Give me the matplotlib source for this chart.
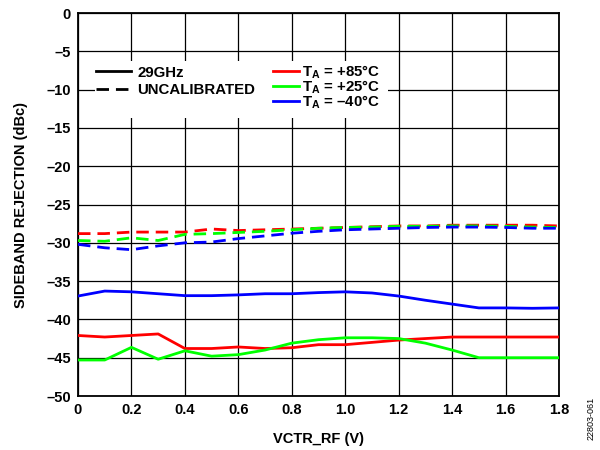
import matplotlib
matplotlib.use("Agg")
import matplotlib.pyplot as plt
from matplotlib.lines import Line2D
from matplotlib.patches import Rectangle

plt.rcParams['font.family'] = ['Liberation Sans', 'DejaVu Sans']
plt.rcParams['font.weight'] = 'bold'
plt.rcParams['mathtext.fontset'] = 'custom'
plt.rcParams['mathtext.rm'] = 'Liberation Sans:bold'
plt.rcParams['mathtext.bf'] = 'Liberation Sans:bold'
plt.rcParams['mathtext.it'] = 'Liberation Sans:bold'

vctr = [0.0, 0.1, 0.2, 0.3, 0.4, 0.5, 0.6, 0.7, 0.8, 0.9,
        1.0, 1.1, 1.2, 1.3, 1.4, 1.5, 1.6, 1.7, 1.8]

# calibrated, 29 GHz
cal_85 = [-42.1, -42.3, -42.1, -41.9, -43.8, -43.8, -43.6, -43.8, -43.7, -43.3,
          -43.3, -43.0, -42.7, -42.5, -42.3, -42.3, -42.3, -42.3, -42.3]
cal_25 = [-45.3, -45.3, -43.65, -45.2, -44.1, -44.8, -44.6, -44.0, -43.1, -42.65,
          -42.4, -42.4, -42.5, -43.1, -44.0, -45.0, -45.0, -45.0, -45.0]
cal_m40 = [-36.95, -36.3, -36.4, -36.65, -36.9, -36.9, -36.8, -36.65, -36.65, -36.5,
           -36.4, -36.55, -36.95, -37.5, -38.0, -38.5, -38.5, -38.55, -38.5]

# uncalibrated
unc_85 = [-28.8, -28.8, -28.6, -28.6, -28.6, -28.2, -28.4, -28.3, -28.2, -28.1,
          -28.0, -27.9, -27.8, -27.8, -27.7, -27.7, -27.7, -27.7, -27.8]
unc_25 = [-29.7, -29.8, -29.35, -29.7, -28.9, -28.8, -28.65, -28.5, -28.3, -28.1,
          -28.0, -27.95, -27.85, -27.85, -27.8, -27.8, -27.85, -27.95, -28.0]
unc_m40 = [-30.2, -30.65, -30.9, -30.4, -30.0, -29.9, -29.45, -29.1, -28.75, -28.5,
           -28.3, -28.2, -28.1, -28.0, -27.95, -27.95, -28.0, -28.1, -28.1]

temp_labels = [r'$\mathrm{T_A}$ = +85°C', r'$\mathrm{T_A}$ = +25°C', r'$\mathrm{T_A}$ = –40°C']
colors = ['#ff0000', '#00ff00', '#0000ff']

fig = plt.figure(figsize=(6, 4.5), dpi=100)
ax = fig.add_axes([0.13, 0.12, 0.8017, 0.8511])

lw = 2.0
dash = (0, (4.5, 2.5))
for ys, c in zip([unc_85, unc_25, unc_m40], colors):
    ax.plot(vctr, ys, color=c, lw=lw, linestyle=dash, zorder=3)
for ys, c in zip([cal_85, cal_25, cal_m40], colors):
    ax.plot(vctr, ys, color=c, lw=lw, zorder=3)

ax.set_xlim(0, 1.8)
ax.set_ylim(-50, 0)
ax.set_xticks([0, 0.2, 0.4, 0.6, 0.8, 1.0, 1.2, 1.4, 1.6, 1.8])
ax.set_xticklabels(['0', '0.2', '0.4', '0.6', '0.8', '1.0', '1.2', '1.4', '1.6', '1.8'])
ax.set_yticks(range(-50, 1, 5))
ax.set_yticklabels(['–50', '–45', '–40', '–35', '–30', '–25', '–20', '–15', '–10', '–5', '0'])
ax.tick_params(length=0, labelsize=10.5, pad=5)
ax.grid(True, color='black', lw=0.9, zorder=1)
ax.set_axisbelow(True)
for s in ax.spines.values():
    s.set_linewidth(1.3)

ax.set_xlabel('VCTR_RF (V)', fontsize=10.5, fontweight='bold', labelpad=11)
ax.set_ylabel('SIDEBAND REJECTION (dBc)', fontsize=10.5, fontweight='bold', labelpad=13)

# white box behind legends
ax.add_patch(Rectangle((0.035, 0.726), 0.61, 0.148, transform=ax.transAxes,
                       facecolor='white', edgecolor='none', zorder=2))

h1 = [Line2D([], [], color='black', lw=lw),
      Line2D([], [], color='black', lw=lw, linestyle=dash)]
leg1 = ax.legend(h1, ['29GHz', 'UNCALIBRATED'], loc='upper left',
                 bbox_to_anchor=(0.025, 0.878), frameon=False, fontsize=10.8,
                 handlelength=2.3, handletextpad=0.45, labelspacing=0.25,
                 borderaxespad=0)
ax.add_artist(leg1)
h2 = [Line2D([], [], color=c, lw=lw) for c in colors]
ax.legend(h2, temp_labels, loc='upper left', bbox_to_anchor=(0.393, 0.884),
          frameon=False, fontsize=10.8, handlelength=1.7, handletextpad=0.2,
          labelspacing=-0.15, borderaxespad=0)

fig.text(0.985, 0.07, '22803-061', rotation=90, fontsize=6.5, fontweight='normal',
         ha='center', va='center')

fig.savefig('out.png', dpi=100)
